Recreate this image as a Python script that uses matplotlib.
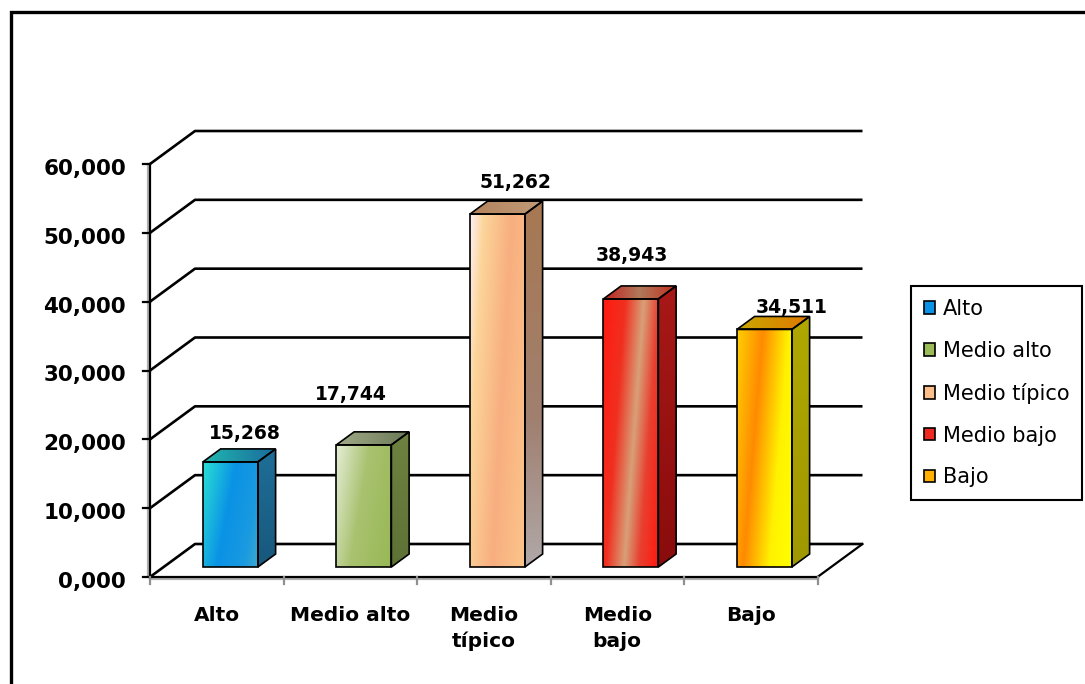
import numpy as np
import matplotlib
matplotlib.use("Agg")
import matplotlib.pyplot as plt
from matplotlib.patches import Polygon, Patch, Rectangle
from matplotlib.colors import to_rgb

# ---- data -------------------------------------------------------------
categories = ["Alto", "Medio alto", "Medio típico", "Medio bajo", "Bajo"]
tick_labels = ["Alto", "Medio alto", "Medio\ntípico", "Medio\nbajo", "Bajo"]
values = [15268, 17744, 51262, 38943, 34511]
value_labels = ["15,268", "17,744", "51,262", "38,943", "34,511"]
y_ticks = [0, 10000, 20000, 30000, 40000, 50000, 60000]
y_tick_labels = ["0,000", "10,000", "20,000", "30,000", "40,000", "50,000", "60,000"]

# ---- layout (pixel geometry of the pseudo-3D frame) --------------------
W_PX, H_PX = 1085, 684
X0, Y0 = 150.0, 577.0          # front-left corner of the floor
CAT_PX = 133.5                 # width of one category slot
VAL_PX = 413.0 / 60000.0       # pixels per unit value
DEPTH_PX = (45.0, 33.0)        # depth vector of the chart box
F0, F1 = 10.0 / 33.0, 23.0 / 33.0   # bar depth (front / back fraction)
BAR_W = 55.0 / CAT_PX

# per-label nudges (pixels right / up from the bar's front-top centre)
label_offsets_px = [(14, 28), (-13, 50), (18, 32), (1, 43), (27, 22)]

DX = DEPTH_PX[0] / CAT_PX
DY = DEPTH_PX[1] / VAL_PX


def px(xp):
    return (xp - X0) / CAT_PX


def py(yp):
    return (Y0 - yp) / VAL_PX


fig = plt.figure(figsize=(W_PX / 100, H_PX / 100), dpi=100)
ax = fig.add_axes([0, 0, 1, 1])
ax.set_axis_off()
XLIM = (px(0), px(W_PX))
YLIM = (py(H_PX), py(0))

# ---- gradient helper ---------------------------------------------------
def gradient_fill(verts, stops, angle_deg, z):
    verts = np.asarray(verts, float)
    xmin, ymin = verts.min(axis=0)
    xmax, ymax = verts.max(axis=0)
    n = 96
    u = np.linspace(0, 1, n)[None, :]        # left -> right
    w = np.linspace(0, 1, n)[:, None]        # top -> bottom
    a = np.deg2rad(angle_deg)
    t = u * np.cos(a) + w * np.sin(a)
    t = (t - t.min()) / (t.max() - t.min())
    pos = [s[0] for s in stops]
    cols = np.array([to_rgb(s[1]) for s in stops])
    img = np.zeros((n, n, 3))
    for ch in range(3):
        img[..., ch] = np.interp(t, pos, cols[:, ch])
    im = ax.imshow(img, extent=[xmin, xmax, ymin, ymax], origin="upper",
                   aspect="auto", interpolation="bilinear", zorder=z)
    clip = Polygon(verts, closed=True, transform=ax.transData)
    im.set_clip_path(clip)
    ax.add_patch(Polygon(verts, closed=True, facecolor="none",
                         edgecolor="black", lw=1.2, zorder=z + 0.1,
                         joinstyle="miter"))


# ---- chart box: walls, gridlines, floor --------------------------------
GRID_LW = 1.9
for t in y_ticks:
    ax.plot([0, DX, 5 + DX], [t, t + DY, t + DY], color="black",
            lw=GRID_LW, zorder=2, solid_capstyle="butt")
    ax.plot([px(X0 - 7), 0], [t, t], color="black", lw=1.6, zorder=2)

# floor front and right edges (with their soft grey shadow)
ax.plot([0, 5], [py(Y0 + 2), py(Y0 + 2)], color="#b0b0b0", lw=1.6, zorder=1.9)
ax.plot([0, 5], [0, 0], color="black", lw=1.6, zorder=2)
ax.plot([5, 5 + DX], [0, DY], color="black", lw=1.6, zorder=2)
# value axis
ax.plot([px(X0 - 2), px(X0 - 2)], [0, y_ticks[-1]], color="#b0b0b0", lw=1.6, zorder=1.9)
ax.plot([0, 0], [0, y_ticks[-1]], color="black", lw=1.6, zorder=2)
# category ticks
for k in range(len(categories) + 1):
    ax.plot([k, k], [0, py(Y0 + 7)], color="#909090", lw=1.6, zorder=2)

# ---- bars -------------------------------------------------------------
front_styles = [
    [(0, "#2ae0d4"), (0.45, "#0a92e6"), (0.8, "#1a9ae0"), (1, "#3aa8d0")],
    [(0, "#e6eed8"), (0.45, "#a9c270"), (1, "#98b855")],
    [(0, "#fff0f4"), (0.18, "#fcd59a"), (0.55, "#f8ae80"), (1, "#fcc58a")],
    [(0, "#ff1a10"), (0.3, "#f03020"), (0.55, "#d8a078"), (0.75, "#e84030"), (1, "#ff1a10")],
    [(0, "#ffd000"), (0.35, "#ff8a00"), (0.7, "#fff200"), (1, "#ffff00")],
]
side_styles = [
    [(0, "#1f6e98"), (1, "#18587c")],
    [(0, "#6e8240"), (1, "#5f7236")],
    [(0, "#a87852"), (0.6, "#a08070"), (1, "#b0a8a8")],
    [(0, "#a81818"), (1, "#8a0c0c")],
    [(0, "#b0a800"), (1, "#a09800")],
]
top_styles = [
    [(0, "#20b8b0"), (1, "#1a6a9c")],
    [(0, "#a0aa88"), (1, "#6c7a58")],
    [(0, "#b4845e"), (1, "#c09a76")],
    [(0, "#c42020"), (0.5, "#b07a5a"), (1, "#c03020")],
    [(0, "#c8a800"), (1, "#e07800")],
]
legend_colors = ["#0a92e6", "#9bbb59", "#fbbf8c", "#ee2a20", "#ffb000"]

ddx, ddy = (F1 - F0) * DX, (F1 - F0) * DY
base = F0 * DY
for i, v in enumerate(values):
    x0 = i + 0.5 - BAR_W / 2 + F0 * DX
    x1 = x0 + BAR_W
    top = base + v
    z = 5 + i
    gradient_fill([(x0, base), (x1, base), (x1, top), (x0, top)],
                  front_styles[i], 20, z)
    gradient_fill([(x1, base), (x1 + ddx, base + ddy),
                   (x1 + ddx, top + ddy), (x1, top)],
                  side_styles[i], 90, z)
    gradient_fill([(x0, top), (x1, top), (x1 + ddx, top + ddy),
                   (x0 + ddx, top + ddy)],
                  top_styles[i], 0, z)
    ox, oy = label_offsets_px[i]
    ax.annotate(value_labels[i], xy=(i + 0.5 + F0 * DX, top),
                xytext=(ox, oy), textcoords="offset pixels",
                ha="center", va="center", fontsize=13.5,
                fontweight="bold", family="DejaVu Sans", zorder=20)

# ---- axis labels ------------------------------------------------------
for t, lab in zip(y_ticks, y_tick_labels):
    ax.text(px(126), t - 5 / VAL_PX, lab, ha="right", va="center",
            fontsize=15.5, fontweight="bold", family="DejaVu Sans")

for i, lab in enumerate(tick_labels):
    ax.text(i + 0.5, py(606), lab, ha="center", va="top", fontsize=14.5,
            fontweight="bold", family="DejaVu Sans", linespacing=1.45)

# ---- legend -----------------------------------------------------------
handles = [Patch(facecolor=c, edgecolor="black", lw=1.2, label=n)
           for c, n in zip(legend_colors, categories)]
leg = fig.legend(handles=handles, loc="upper left",
                 bbox_to_anchor=(911 / W_PX, 1 - 286 / H_PX),
                 borderaxespad=0, fancybox=False, framealpha=1,
                 edgecolor="black", handlelength=0.55, handleheight=0.55,
                 handletextpad=0.35, labelspacing=1.05, borderpad=0.62,
                 prop={"family": "DejaVu Sans", "size": 15})
leg.get_frame().set_linewidth(1.5)

# ---- outer frame ------------------------------------------------------
fig.patches.append(Rectangle((10.5 / W_PX, -0.2), 1.5, 1.2 - 12 / H_PX,
                             transform=fig.transFigure, fill=False,
                             edgecolor="black", lw=2.4, zorder=30))

ax.set_xlim(*XLIM)
ax.set_ylim(*YLIM)
fig.savefig("out.png", dpi=100, facecolor="white")
